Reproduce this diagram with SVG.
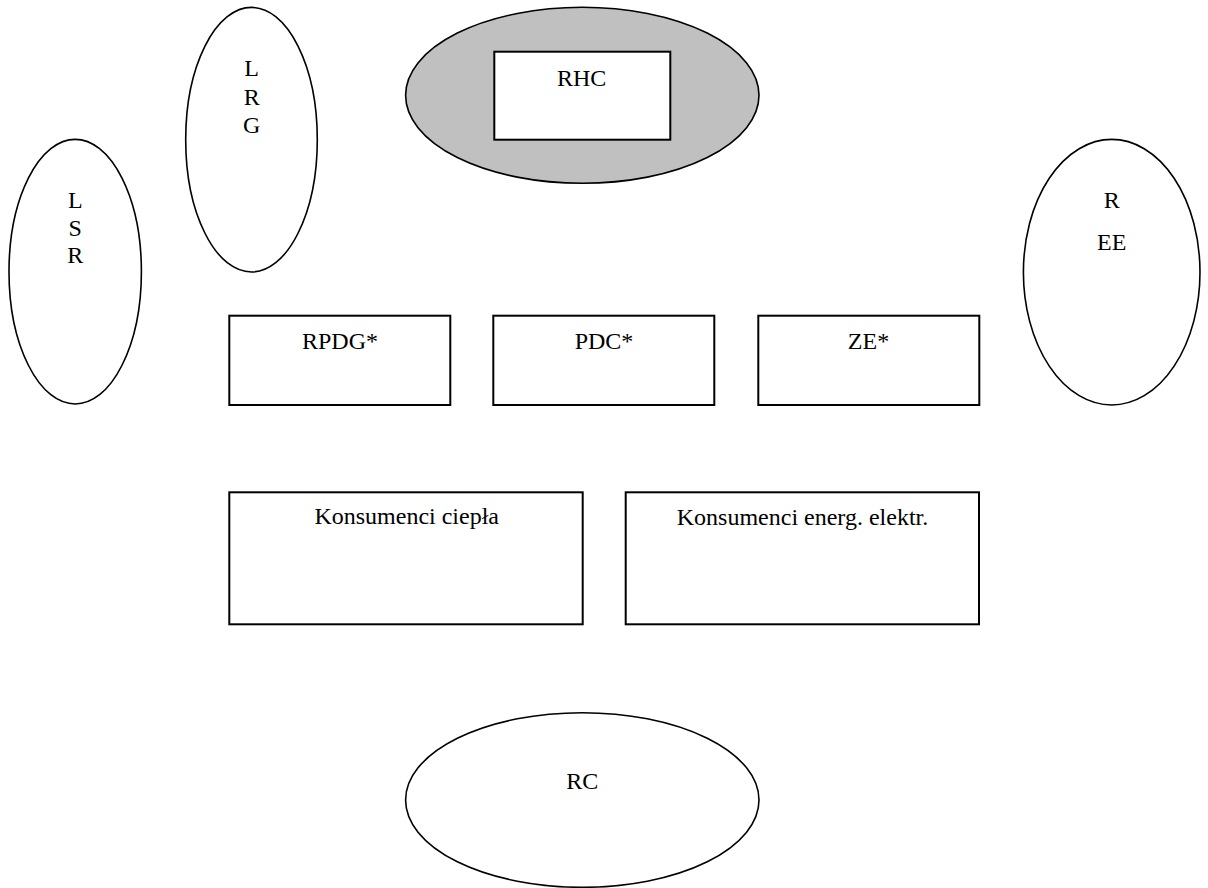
<svg xmlns="http://www.w3.org/2000/svg" width="1208" height="888" viewBox="0 0 1208 888">
<style>
  .shape { fill: #ffffff; stroke: #000000; stroke-width: 1.6; }
  .box { fill: #ffffff; stroke: #000000; stroke-width: 2; }
  .grey { fill: #c0c0c0; stroke: #000000; stroke-width: 1.6; }
  text { font-family: "Liberation Serif", "Times New Roman", serif; font-size: 24px; fill: #000000; text-anchor: middle; }
</style>
<rect width="1208" height="888" fill="#ffffff"/>
<g id="connectors"></g>
<g id="node-LRG">
  <ellipse class="shape" cx="251.5" cy="139.7" rx="65.8" ry="132.3"/>
  <text x="251.7" y="76">L</text>
  <text x="251.7" y="104.5">R</text>
  <text x="251.7" y="132.5">G</text>
</g>
<g id="node-LSR">
  <ellipse class="shape" cx="75.2" cy="271.7" rx="66.2" ry="132.3"/>
  <text x="75.3" y="208.3">L</text>
  <text x="75.3" y="236">S</text>
  <text x="75.3" y="263.3">R</text>
</g>
<g id="node-RHC">
  <ellipse class="grey" cx="582.3" cy="95.3" rx="176.7" ry="88"/>
  <rect class="box" x="494.3" y="51.7" width="176" height="88"/>
  <text x="581.7" y="85.7">RHC</text>
</g>
<g id="node-REE">
  <ellipse class="shape" cx="1111.7" cy="272.2" rx="88.3" ry="132.8"/>
  <text x="1111.7" y="208.3">R</text>
  <text x="1111.7" y="250">EE</text>
</g>
<g id="node-RPDG">
  <rect class="box" x="229.3" y="315.7" width="221" height="89.3"/>
  <text x="340" y="349.3">RPDG*</text>
</g>
<g id="node-PDC">
  <rect class="box" x="493.3" y="315.7" width="221" height="89.3"/>
  <text x="604" y="349.3">PDC*</text>
</g>
<g id="node-ZE">
  <rect class="box" x="758.3" y="315.7" width="221" height="89.3"/>
  <text x="868.5" y="349.3">ZE*</text>
</g>
<g id="node-konsumenci-ciepla">
  <rect class="box" x="229.3" y="492.3" width="353.4" height="132"/>
  <text x="406.7" y="524">Konsumenci ciepła</text>
</g>
<g id="node-konsumenci-energ">
  <rect class="box" x="625.7" y="492.3" width="353.3" height="132"/>
  <text x="802.5" y="524.5">Konsumenci energ. elektr.</text>
</g>
<g id="node-RC">
  <ellipse class="shape" cx="582.3" cy="800" rx="176.7" ry="87.3"/>
  <text x="582.3" y="789.3">RC</text>
</g>
</svg>
